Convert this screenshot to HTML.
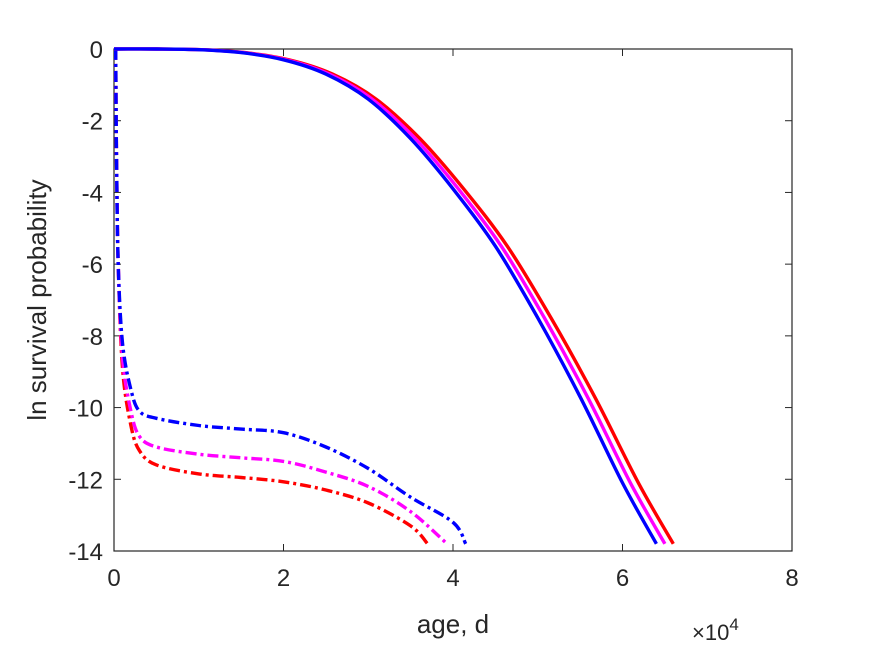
<!DOCTYPE html>
<html><head><meta charset="utf-8"><style>body{margin:0;background:#fff}svg{display:block;font-family:"Liberation Sans",sans-serif}</style></head>
<body>
<svg id="chart" width="875" height="656" viewBox="0 0 875 656">
<g id="axes"></g><g id="series"></g>
<text x="453" y="633" font-size="26" fill="#262626" text-anchor="middle">age, d</text>
<text transform="translate(46,300) rotate(-90)" font-size="26" fill="#262626" text-anchor="middle">ln survival probability</text>
<text x="692" y="640" font-size="22" fill="#262626">×10<tspan dy="-10" font-size="17">4</tspan></text>
</svg>
<script>
const xTicks=[0,2,4,6,8];
const yTicks=[0,-2,-4,-6,-8,-10,-12,-14];
const solidX=[0,0.5,1,1.5,2,2.5,3,3.5,4,4.5,5,5.5,6,6.4];
const blueSolidY=[0,0,-0.02,-0.1,-0.3,-0.7,-1.4,-2.5,-3.9,-5.5,-7.5,-9.7,-12.1,-13.8];
const magentaScale=6.5/6.4, redScale=6.6/6.4;
const dashBlueX=[0.02,0.03,0.05,0.1,0.2,0.3,0.5,1,1.5,2,2.5,3,3.5,4,4.15];
const dashBlueY=[0,-3,-6,-8.2,-9.5,-10.1,-10.3,-10.5,-10.6,-10.7,-11.1,-11.7,-12.5,-13.2,-13.8];
const dashMagX=[0.02,0.03,0.05,0.1,0.2,0.3,0.5,1,1.5,2,2.5,3,3.5,3.93];
const dashMagY=[0,-3,-6,-8.6,-10.1,-10.8,-11.1,-11.3,-11.4,-11.5,-11.8,-12.2,-12.9,-13.8];
const dashRedX=[0.02,0.03,0.05,0.1,0.2,0.3,0.5,1,1.5,2,2.5,3,3.5,3.7];
const dashRedY=[0,-3,-6,-8.9,-10.5,-11.2,-11.6,-11.85,-11.95,-12.07,-12.3,-12.66,-13.3,-13.8];
const X0=114,X1=792,Y0=49,Y1=551;
const sx=v=>X0+(v-0)/8*(X1-X0), sy=v=>Y0+(0-v)/14*(Y1-Y0);
const NS="http://www.w3.org/2000/svg";
const ax=document.getElementById('axes'), se=document.getElementById('series');
function mk(t,a,p){const e=document.createElementNS(NS,t);for(const k in a)e.setAttribute(k,a[k]);p.appendChild(e);return e;}
const box=mk('rect',{x:X0,y:Y0,width:X1-X0,height:Y1-Y0,fill:'none',stroke:'#262626','stroke-width':1.2},ax);


xTicks.forEach(v=>{const x=sx(v);
mk('line',{x1:x,x2:x,y1:Y1,y2:Y1-7,stroke:'#262626'},ax);mk('line',{x1:x,x2:x,y1:Y0,y2:Y0+7,stroke:'#262626'},ax);
const t=mk('text',{x:x,y:Y1+35,'font-size':24,fill:'#262626','text-anchor':'middle'},ax);t.textContent=v;

});
yTicks.forEach(v=>{const y=sy(v);
mk('line',{x1:X0,x2:X0+7,y1:y,y2:y,stroke:'#262626'},ax);mk('line',{x1:X1,x2:X1-7,y1:y,y2:y,stroke:'#262626'},ax);
const t=mk('text',{x:X0-11,y:y+9,'font-size':24,fill:'#262626','text-anchor':'end'},ax);t.textContent=v;

});
function smooth(pts){let d='M'+pts[0][0].toFixed(1)+' '+pts[0][1].toFixed(1);
for(let i=0;i<pts.length-1;i++){const p0=pts[Math.max(0,i-1)],p1=pts[i],p2=pts[i+1],p3=pts[Math.min(pts.length-1,i+2)];
const c1=[p1[0]+(p2[0]-p0[0])/6,p1[1]+(p2[1]-p0[1])/6],c2=[p2[0]-(p3[0]-p1[0])/6,p2[1]-(p3[1]-p1[1])/6];
d+=' C'+c1.map(v=>v.toFixed(1)).join(' ')+' '+c2.map(v=>v.toFixed(1)).join(' ')+' '+p2[0].toFixed(1)+' '+p2[1].toFixed(1);}
return d;}
function line(xs,ys,color,dash,name){const pts=xs.map((x,i)=>[sx(x),sy(ys[i])]);
const p=mk('path',{d:smooth(pts),fill:'none',stroke:color,'stroke-width':3.4,'stroke-linejoin':'round'},se);if(dash)p.setAttribute('stroke-dasharray','11 4 3 4');

}
line(dashRedX,dashRedY,'#ff0000',true,'red-dashdot-line');
line(dashMagX,dashMagY,'#ff00ff',true,'magenta-dashdot-line');
line(dashBlueX,dashBlueY,'#0000ff',true,'blue-dashdot-line');
line(solidX.map(x=>x*redScale),blueSolidY,'#ff0000',false,'red-solid-line');
line(solidX.map(x=>x*magentaScale),blueSolidY,'#ff00ff',false,'magenta-solid-line');
line(solidX,blueSolidY,'#0000ff',false,'blue-solid-line');
</script>
</body></html>
